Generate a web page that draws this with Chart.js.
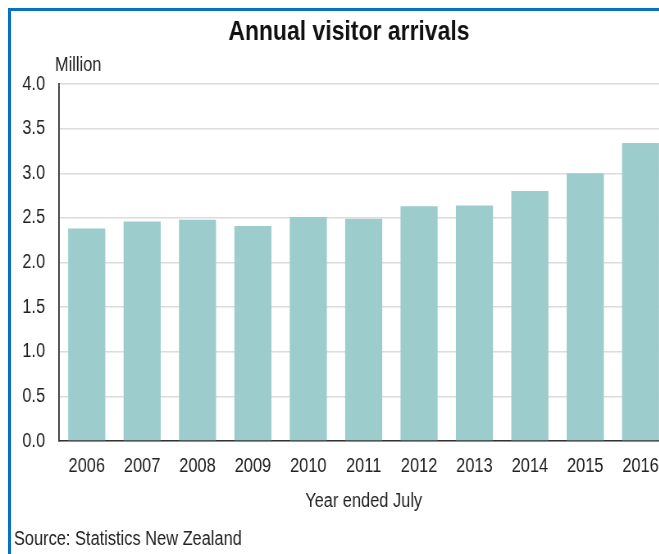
<!DOCTYPE html>
<html>
<head>
<meta charset="utf-8">
<script src="https://cdn.jsdelivr.net/npm/chart.js@4"></script>
<style>
  html, body { margin: 0; padding: 0; background: #fff; overflow: hidden; }
  #frame {
    position: absolute; left: 8px; top: 8px; right: 0; bottom: 0;
    border-left: 3px solid #0a70c2; border-top: 3px solid #0a70c2;
  }
  /* fonte estreita: comprime a tela na horizontal */
  #wrap {
    position: absolute; left: 0; top: 0; width: 820px; height: 554px;
    transform: scaleX(0.82); transform-origin: 0 0;
  }
</style>
</head>
<body>
<div id="frame"></div>
<div id="wrap"><canvas id="visitorChart"></canvas></div>
<script>
// Dados
const years = ["2006", "2007", "2008", "2009", "2010", "2011", "2012", "2013", "2014", "2015", "2016"];
const arrivals = [2.38, 2.46, 2.48, 2.41, 2.51, 2.49, 2.63, 2.64, 2.8, 3.0, 3.34];
const yTicks = [0, 0.5, 1, 1.5, 2, 2.5, 3, 3.5, 4];

const FONT = "'Liberation Sans', Arial, sans-serif";

// Título, unidade e fonte
const extraText = {
  id: "extraText",
  afterDraw(chart) {
    const { ctx, chartArea } = chart;
    ctx.save();
    ctx.textBaseline = "alphabetic";

    ctx.fillStyle = "#111";
    ctx.font = "bold 28px " + FONT;
    ctx.textAlign = "center";
    ctx.fillText("Annual visitor arrivals", (chartArea.left + chartArea.right) / 2 - 18, 40);

    ctx.fillStyle = "#222";
    ctx.font = "20px " + FONT;
    ctx.textAlign = "left";
    ctx.fillText("Million", chartArea.left - 5, chartArea.top - 13);
    ctx.fillText("Source: Statistics New Zealand", 17, 545);
    ctx.restore();
  },
};

const ctx = document.getElementById("visitorChart").getContext("2d");

new Chart(ctx, {
  type: "bar",
  data: {
    labels: years,
    datasets: [
      {
        label: "Annual visitor arrivals",
        data: arrivals,
        backgroundColor: "#9dcccd",
        barPercentage: 0.67,
        categoryPercentage: 1,
      },
    ],
  },
  options: {
    responsive: true,
    maintainAspectRatio: false,
    animation: false,
    layout: {
      padding: { left: 20, right: 5, top: 84, bottom: 33 },
    },
    scales: {
      x: {
        grid: { display: false, drawTicks: false },
        border: { display: true, color: "#333", width: 1.5 },
        ticks: {
          color: "#222",
          padding: 13,
          maxRotation: 0,
          autoSkip: false,
          font: { family: FONT, size: 20 },
        },
        title: {
          display: true,
          text: "Year ended July",
          color: "#222",
          font: { family: FONT, size: 20 },
          padding: { top: 0, bottom: 8 },
        },
        afterFit(scale) {
          scale.height = 80;
        },
      },
      y: {
        min: 0,
        max: 4,
        afterBuildTicks(scale) {
          scale.ticks = yTicks.map((v) => ({ value: v }));
        },
        grid: {
          color: "#dcdcdc",
          lineWidth: 1.5,
          drawTicks: false,
        },
        border: { display: true, color: "#333", width: 1.8 },
        ticks: {
          color: "#222",
          padding: 17,
          font: { family: FONT, size: 20 },
          callback: (v) => Number(v).toFixed(1),
        },
        afterFit(scale) {
          scale.width = 52;
        },
      },
    },
    plugins: {
      legend: { display: false },
      tooltip: { enabled: false },
      title: { display: false },
    },
  },
  plugins: [extraText],
});
</script>
</body>
</html>
